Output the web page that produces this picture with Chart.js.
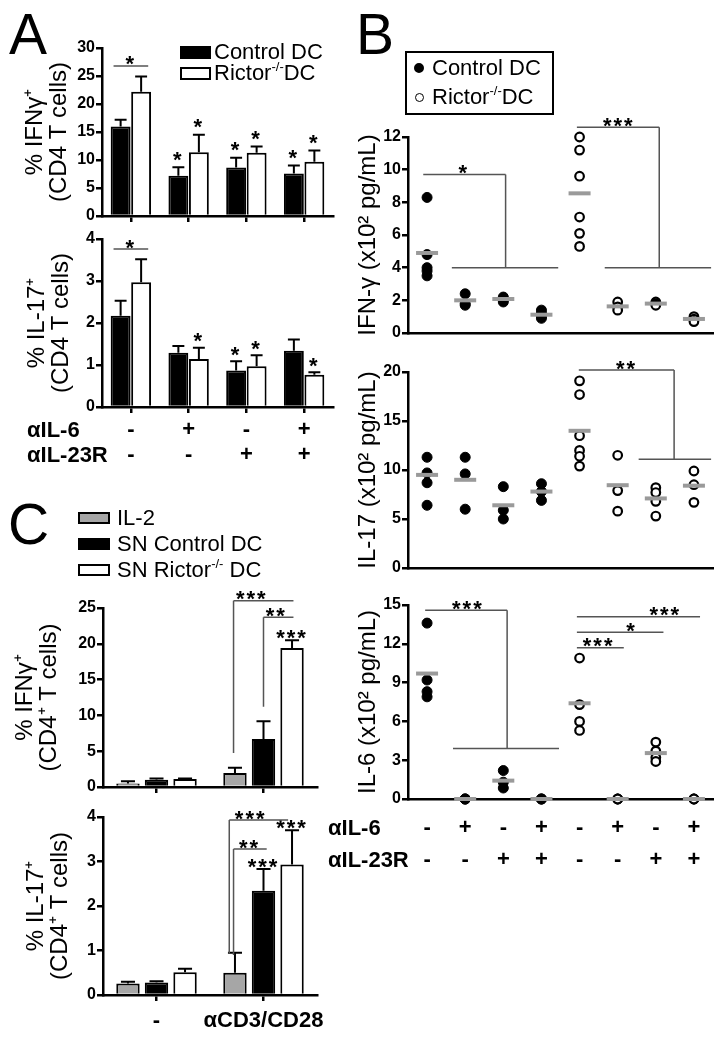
<!DOCTYPE html>
<html>
<head>
<meta charset="utf-8">
<script src="https://cdn.jsdelivr.net/npm/chart.js@4.4.0/dist/chart.umd.min.js"></script>
<style>
body { margin: 0; background: #fff; }
#fig { position: relative; width: 728px; height: 1037px; overflow: hidden; font-family: "Liberation Sans", Arial, sans-serif; color: #000; background: #fff; }
#fig canvas { position: absolute; left: 0; top: 0; }
.t { position: absolute; white-space: nowrap; }
.letter { font-size: 57px; line-height: 56px; }
.lg { font-size: 22px; line-height: 22px; }
.row { font-size: 22px; line-height: 22px; font-weight: bold; }
.sw { position: absolute; box-sizing: border-box; border: 2px solid #000; }
.dot { position: absolute; box-sizing: border-box; border-radius: 50%; border: 2px solid #000; }
sup { font-size: 13px; vertical-align: 9px; line-height: 0; }
</style>
</head>
<body>
<div id="fig">
    <canvas id="aTop" width="728" height="1037"></canvas>
    <canvas id="aBot" width="728" height="1037"></canvas>
    <canvas id="bTop" width="728" height="1037"></canvas>
    <canvas id="bMid" width="728" height="1037"></canvas>
    <canvas id="bBot" width="728" height="1037"></canvas>
    <canvas id="cTop" width="728" height="1037"></canvas>
    <canvas id="cBot" width="728" height="1037"></canvas>

    <!-- panel letters -->
    <div class="t letter" style="left:9px;top:6px">A</div>
    <div class="t letter" style="left:356px;top:6px">B</div>
    <div class="t letter" style="left:8px;top:496px">C</div>

    <!-- legend A -->
    <div class="sw" style="left:180px;top:46px;width:31px;height:13px;background:#000"></div>
    <div class="t lg" style="left:214px;top:41px">Control DC</div>
    <div class="sw" style="left:180px;top:67px;width:31px;height:13px;background:#fff"></div>
    <div class="t lg" style="left:214px;top:62px">Rictor<sup>-/-</sup>DC</div>

    <!-- legend B -->
    <div class="sw" style="left:405px;top:51px;width:149px;height:64px"></div>
    <div class="dot" style="left:414px;top:63px;width:10px;height:10px;background:#000"></div>
    <div class="t lg" style="left:432px;top:57px">Control DC</div>
    <div class="dot" style="left:415px;top:93px;width:9px;height:9px;border-width:1.5px;background:#fff"></div>
    <div class="t lg" style="left:432px;top:86px">Rictor<sup>-/-</sup>DC</div>

    <!-- legend C -->
    <div class="sw" style="left:78px;top:512px;width:32px;height:12px;background:#a6a6a6"></div>
    <div class="t lg" style="left:117px;top:507px">IL-2</div>
    <div class="sw" style="left:78px;top:538px;width:32px;height:12px;background:#000"></div>
    <div class="t lg" style="left:117px;top:533px">SN Control DC</div>
    <div class="sw" style="left:78px;top:564px;width:32px;height:12px;background:#fff"></div>
    <div class="t lg" style="left:117px;top:559px">SN Rictor<sup>-/-</sup> DC</div>

    <!-- treatment row names -->
    <div class="t row" style="left:27px;top:419px">αIL-6</div>
    <div class="t row" style="left:27px;top:444px">αIL-23R</div>
    <div class="t row" style="left:328px;top:817px">αIL-6</div>
    <div class="t row" style="left:328px;top:849px">αIL-23R</div>
</div>

<script>
// ---- data: panel A (% of CD4 T cells, mean and SEM) ----
const treatIL6 = ['-', '+', '-', '+'];
const treatIL23R = ['-', '-', '+', '+'];
const aIfnCtrl = [16.0, 7.2, 8.65, 7.6];
const aIfnCtrlSem = [1.2, 1.5, 1.75, 1.4];
const aIfnRic = [22.2, 11.4, 11.3, 9.7];
const aIfnRicSem = [2.7, 3.1, 1.1, 2.0];
const aIfnCtrlStars = ['', '*', '*', '*'];
const aIfnRicStars = ['', '*', '*', '*'];
const aIl17Ctrl = [2.17, 1.29, 0.87, 1.34];
const aIl17CtrlSem = [0.36, 0.16, 0.22, 0.27];
const aIl17Ric = [2.97, 1.14, 0.97, 0.77];
const aIl17RicSem = [0.55, 0.27, 0.26, 0.06];
const aIl17CtrlStars = ['', '', '*', ''];
const aIl17RicStars = ['', '*', '*', '*'];

// ---- data: panel B (x10^2 pg/mL, individual points per column) ----
const bIL6 = ['-', '+', '-', '+', '-', '+', '-', '+'];
const bIL23R = ['-', '-', '+', '+', '-', '-', '+', '+'];
const bIfnCtrl = [[8.3, 4.8, 4.0, 3.8, 3.5], [2.4, 1.8, 1.7], [2.2, 2.05, 1.9], [1.4, 1.2, 1.0, 0.9]];
const bIfnRic = [[12.0, 11.2, 9.6, 7.1, 6.1, 5.3], [1.9, 1.6, 1.4], [1.9, 1.8, 1.7], [1.0, 0.85, 0.7]];
const bIfnMean = [4.9, 2.0, 2.08, 1.12, 8.55, 1.63, 1.8, 0.86];
const bIl17Ctrl = [[11.3, 9.7, 8.7, 6.4], [11.3, 9.6, 6.0], [8.3, 5.9, 5.0], [8.6, 7.8, 6.9]];
const bIl17Ric = [[19.1, 17.7, 13.5, 12.0, 11.4, 10.4], [11.5, 7.9, 5.8], [8.2, 7.7, 6.8, 5.3], [9.9, 8.5, 6.7]];
const bIl17Mean = [9.5, 9.0, 6.4, 7.8, 14.0, 8.45, 7.1, 8.4];
const bIl6Ctrl = [[13.6, 9.2, 8.3, 7.9], [0, 0, 0], [2.2, 1.3, 0.85], [0, 0, 0]];
const bIl6Ric = [[10.9, 7.3, 6.0, 5.3], [0, 0, 0], [4.4, 3.7, 3.2, 2.9], [0, 0, 0]];
const bIl6Mean = [9.7, 0, 1.42, 0, 7.4, 0, 3.55, 0];

// ---- data: panel C ----
const cGroups = ['-', 'αCD3/CD28'];
const cIfnIL2 = [0.5, 1.95];
const cIfnIL2Sem = [0.3, 0.75];
const cIfnCtrl = [1.0, 6.7];
const cIfnCtrlSem = [0.2, 2.5];
const cIfnRic = [1.1, 19.4];
const cIfnRicSem = [0.1, 1.1];
const cIl17IL2 = [0.26, 0.5];
const cIl17IL2Sem = [0.04, 0.45];
const cIl17Ctrl = [0.28, 2.34];
const cIl17CtrlSem = [0.03, 0.49];
const cIl17Ric = [0.51, 2.93];
const cIl17RicSem = [0.08, 0.77];

const W = 728, H = 1037;
const FONT = '"Liberation Sans", Arial, sans-serif';
Chart.defaults.font.family = FONT;
Chart.defaults.color = '#000';
Chart.defaults.animation = false;
Chart.defaults.events = [];
Chart.defaults.responsive = false;
Chart.defaults.devicePixelRatio = 1;
Chart.defaults.plugins.legend.display = false;
Chart.defaults.plugins.tooltip.enabled = false;

// chart area boxes (page pixels), y axis width and x axis height
const boxATop = { l: 102, r: 333, t: 48, b: 216, yW: 94, xH: 10 };
const boxABot = { l: 102, r: 333, t: 239, b: 407, yW: 94, xH: 60 };
const boxBTop = { l: 408, r: 715, t: 137, b: 333, yW: 58, xH: 10 };
const boxBMid = { l: 408, r: 715, t: 372, b: 568, yW: 58, xH: 10 };
const boxBBot = { l: 408, r: 715, t: 605, b: 799, yW: 58, xH: 80 };
const boxCTop = { l: 103, r: 317, t: 608, b: 787, yW: 95, xH: 10 };
const boxCBot = { l: 103, r: 317, t: 817, b: 995, yW: 95, xH: 40 };

function pad(b) {
    return { left: b.l - b.yW, top: b.t, right: W - b.r, bottom: H - b.b - b.xH };
}

function star(ctx, text, x, cy, size) {
    ctx.font = `bold ${size}px ${FONT}`;
    ctx.fillStyle = '#000';
    ctx.textAlign = 'center';
    ctx.textBaseline = 'alphabetic';
    ctx.letterSpacing = '2px';
    ctx.fillText(text, x, cy + size * 0.57);
    ctx.letterSpacing = '0px';
}

// error bars, significance stars and brackets
const extras = {
    id: 'extras',
    afterDatasetsDraw(chart, args, o) {
        const ctx = chart.ctx, xs = chart.scales.x, ys = chart.scales.y;
        ctx.save();
        (o.errors || []).forEach((sem, di) => {
            const ds = chart.data.datasets[di];
            chart.getDatasetMeta(di).data.forEach((bar, i) => {
                const top = ys.getPixelForValue(ds.data[i] + sem[i]);
                const half = bar.width * 0.3;
                ctx.strokeStyle = '#000';
                ctx.lineWidth = 2;
                ctx.beginPath();
                ctx.moveTo(bar.x, bar.y);
                ctx.lineTo(bar.x, top);
                ctx.moveTo(bar.x - half, top);
                ctx.lineTo(bar.x + half, top);
                ctx.stroke();
                const s = o.stars && o.stars[di] && o.stars[di][i];
                if (s) star(ctx, s, bar.x, top - o.starGap, o.starSize);
            });
        });
        (o.brackets || []).forEach(b => {
            ctx.strokeStyle = '#555';
            ctx.lineWidth = 1.5;
            ctx.beginPath();
            b.segs.forEach(([x1, y1, x2, y2]) => {
                ctx.moveTo(xs.getPixelForValue(x1), ys.getPixelForValue(y1));
                ctx.lineTo(xs.getPixelForValue(x2), ys.getPixelForValue(y2));
            });
            ctx.stroke();
            star(ctx, b.text, xs.getPixelForValue(b.tx), ys.getPixelForValue(b.segs[0][1]) - 7, o.starSize);
        });
        ctx.restore();
    }
};

function yAxis(b, max, step, title, titlePad) {
    return {
        min: 0, max: max,
        afterFit: s => { s.width = b.yW; },
        border: { color: '#000', width: 2.5 },
        grid: { drawOnChartArea: false, drawTicks: true, tickLength: 6, color: '#000', lineWidth: 2.5 },
        ticks: { stepSize: step, padding: 1, font: { size: 16, weight: 'bold' } },
        title: { display: true, text: title, padding: { top: titlePad, bottom: 0 }, font: { size: 24, lineHeight: 1.0 } }
    };
}

function xCat(b, labelFn, lineH, padding) {
    return {
        afterFit: s => { s.height = b.xH; },
        border: { color: '#000', width: 2.5 },
        grid: { drawOnChartArea: false, drawTicks: true, tickLength: 6, offset: false, color: '#000', lineWidth: 2.5 },
        ticks: {
            display: !!labelFn, autoSkip: false, maxRotation: 0, padding: padding || 0,
            font: { size: 22, weight: 'bold', lineHeight: lineH || 1 },
            callback: labelFn || (() => '')
        }
    };
}

function barSet(label, data, fill) {
    return { label, data, backgroundColor: fill, borderColor: '#000', borderWidth: 2 };
}

// ---- Panel A ----
const treatLabels = treatIL6.map((s, i) => s + '/' + treatIL23R[i]);
new Chart(document.getElementById('aTop'), {
    type: 'bar',
    data: { labels: treatLabels, datasets: [barSet('Control DC', aIfnCtrl, '#000'), barSet('Rictor-/-DC', aIfnRic, '#fff')] },
    options: {
        layout: { padding: pad(boxATop) },
        datasets: { bar: { categoryPercentage: 0.71, barPercentage: 0.97 } },
        scales: { x: xCat(boxATop), y: yAxis(boxATop, 30, 5, ['% IFNγ⁺', '(CD4 T cells)'], 15) },
        plugins: { extras: {
            errors: [aIfnCtrlSem, aIfnRicSem], stars: [aIfnCtrlStars, aIfnRicStars], starGap: 13, starSize: 22,
            brackets: [{ segs: [[-0.3, 26.8, 0.3, 26.8]], tx: 0, text: '*' }]
        } }
    },
    plugins: [extras]
});

new Chart(document.getElementById('aBot'), {
    type: 'bar',
    data: { labels: treatLabels, datasets: [barSet('Control DC', aIl17Ctrl, '#000'), barSet('Rictor-/-DC', aIl17Ric, '#fff')] },
    options: {
        layout: { padding: pad(boxABot) },
        datasets: { bar: { categoryPercentage: 0.71, barPercentage: 0.97 } },
        scales: {
            x: xCat(boxABot, (v, i) => [treatIL6[i], treatIL23R[i]], 25 / 22, 4),
            y: yAxis(boxABot, 4, 1, ['% IL-17⁺', '(CD4 T cells)'], 17)
        },
        plugins: { extras: {
            errors: [aIl17CtrlSem, aIl17RicSem], stars: [aIl17CtrlStars, aIl17RicStars], starGap: 12, starSize: 22,
            brackets: [{ segs: [[-0.3, 3.76, 0.3, 3.76]], tx: 0, text: '*' }]
        } }
    },
    plugins: [extras]
});

// ---- Panel B ----
function pts(cols, start) {
    return cols.flatMap((c, i) => c.map(v => ({ x: start + i, y: v })));
}

function bChart(id, b, ctrl, ric, mean, max, step, title, showLabels, brackets) {
    return new Chart(document.getElementById(id), {
        type: 'scatter',
        data: { datasets: [
            { label: 'mean', data: mean.map((v, i) => ({ x: i, y: v })), pointStyle: 'line', pointRadius: 11,
              pointBorderWidth: 4, pointBorderColor: '#9a9a9a', clip: false },
            { label: 'Control DC', data: pts(ctrl, 0), pointRadius: 5, pointBackgroundColor: '#000',
              pointBorderColor: '#000', pointBorderWidth: 1, clip: false },
            { label: 'Rictor-/-DC', data: pts(ric, 4), pointRadius: 4.3, pointBackgroundColor: '#fff',
              pointBorderColor: '#000', pointBorderWidth: 2.2, clip: false }
        ] },
        options: {
            layout: { padding: pad(b) },
            scales: {
                x: {
                    type: 'linear', min: -0.5, max: 7.5,
                    afterBuildTicks: s => { s.ticks = bIL6.map((_, i) => ({ value: i })); },
                    afterFit: s => { s.height = b.xH; },
                    border: { color: '#000', width: 2.5 },
                    grid: { drawOnChartArea: false, drawTicks: false },
                    ticks: {
                        display: showLabels, autoSkip: false, maxRotation: 0, padding: 13,
                        font: { size: 22, weight: 'bold', lineHeight: 32 / 22 },
                        callback: v => [bIL6[v], bIL23R[v]]
                    }
                },
                y: {
                    min: 0, max: max,
                    afterFit: s => { s.width = b.yW; },
                    border: { color: '#000', width: 2.5 },
                    grid: { drawOnChartArea: false, drawTicks: true, tickLength: 6, color: '#000', lineWidth: 2.5 },
                    ticks: { stepSize: step, padding: 1, font: { size: 16, weight: 'bold' } },
                    title: { display: true, text: title, padding: { top: 6, bottom: 0 }, font: { size: 24, lineHeight: 1.0 } }
                }
            },
            plugins: { extras: { starSize: 22, brackets } }
        },
        plugins: [extras]
    });
}

bChart('bTop', boxBTop, bIfnCtrl, bIfnRic, bIfnMean, 12, 2, 'IFN-γ (x10² pg/mL)', false, [
    { segs: [[-0.1, 9.7, 2.06, 9.7], [2.06, 9.7, 2.06, 4.0], [0.65, 4.0, 3.44, 4.0]], tx: 0.96, text: '*' },
    { segs: [[3.93, 12.6, 6.09, 12.6], [6.09, 12.6, 6.09, 4.0], [4.66, 4.0, 7.45, 4.0]], tx: 5.03, text: '***' }
]);
bChart('bMid', boxBMid, bIl17Ctrl, bIl17Ric, bIl17Mean, 20, 5, 'IL-17 (x10² pg/mL)', false, [
    { segs: [[3.98, 20.2, 6.48, 20.2], [6.48, 20.2, 6.48, 11.1], [5.55, 11.1, 7.45, 11.1]], tx: 5.23, text: '**' }
]);
bChart('bBot', boxBBot, bIl6Ctrl, bIl6Ric, bIl6Mean, 15, 3, 'IL-6 (x10² pg/mL)', true, [
    { segs: [[-0.05, 14.6, 2.1, 14.6], [2.1, 14.6, 2.1, 3.9], [0.68, 3.9, 3.46, 3.9]], tx: 1.07, text: '***' },
    { segs: [[3.93, 11.7, 5.16, 11.7]], tx: 4.5, text: '***' },
    { segs: [[3.93, 12.9, 6.2, 12.9]], tx: 5.36, text: '*' },
    { segs: [[3.93, 14.1, 7.16, 14.1]], tx: 6.25, text: '***' }
]);

// ---- Panel C ----
new Chart(document.getElementById('cTop'), {
    type: 'bar',
    data: { labels: cGroups, datasets: [
        barSet('IL-2', cIfnIL2, '#a6a6a6'), barSet('SN Control DC', cIfnCtrl, '#000'), barSet('SN Rictor-/- DC', cIfnRic, '#fff')
    ] },
    options: {
        layout: { padding: pad(boxCTop) },
        datasets: { bar: { categoryPercentage: 0.8, barPercentage: 0.82 } },
        scales: { x: xCat(boxCTop), y: yAxis(boxCTop, 25, 5, ['% IFNγ⁺', '(CD4⁺ T cells)'], 5) },
        plugins: { extras: {
            errors: [cIfnIL2Sem, cIfnCtrlSem, cIfnRicSem], stars: [['', ''], ['', ''], ['', '***']], starGap: 8, starSize: 22,
            brackets: [
                { segs: [[0.72, 26.0, 1.28, 26.0], [0.72, 26.0, 0.72, 4.75]], tx: 0.89, text: '***' },
                { segs: [[1.0, 23.7, 1.28, 23.7], [1.0, 23.7, 1.0, 11.2]], tx: 1.12, text: '**' }
            ]
        } }
    },
    plugins: [extras]
});

new Chart(document.getElementById('cBot'), {
    type: 'bar',
    data: { labels: cGroups, datasets: [
        barSet('IL-2', cIl17IL2, '#a6a6a6'), barSet('SN Control DC', cIl17Ctrl, '#000'), barSet('SN Rictor-/- DC', cIl17Ric, '#fff')
    ] },
    options: {
        layout: { padding: pad(boxCBot) },
        datasets: { bar: { categoryPercentage: 0.8, barPercentage: 0.82 } },
        scales: {
            x: xCat(boxCBot, (v, i) => cGroups[i], 1, 9),
            y: yAxis(boxCBot, 4, 1, ['% IL-17⁺', '(CD4⁺ T cells)'], 16)
        },
        plugins: { extras: {
            errors: [cIl17IL2Sem, cIl17CtrlSem, cIl17RicSem], stars: [['', ''], ['', '***'], ['', '***']], starGap: 8, starSize: 22,
            brackets: [
                { segs: [[0.68, 3.93, 1.23, 3.93], [0.68, 3.93, 0.68, 0.94]], tx: 0.88, text: '***' },
                { segs: [[0.72, 3.28, 1.03, 3.28], [0.72, 3.28, 0.72, 0.9]], tx: 0.87, text: '**' }
            ]
        } }
    },
    plugins: [extras]
});
</script>
</body>
</html>
